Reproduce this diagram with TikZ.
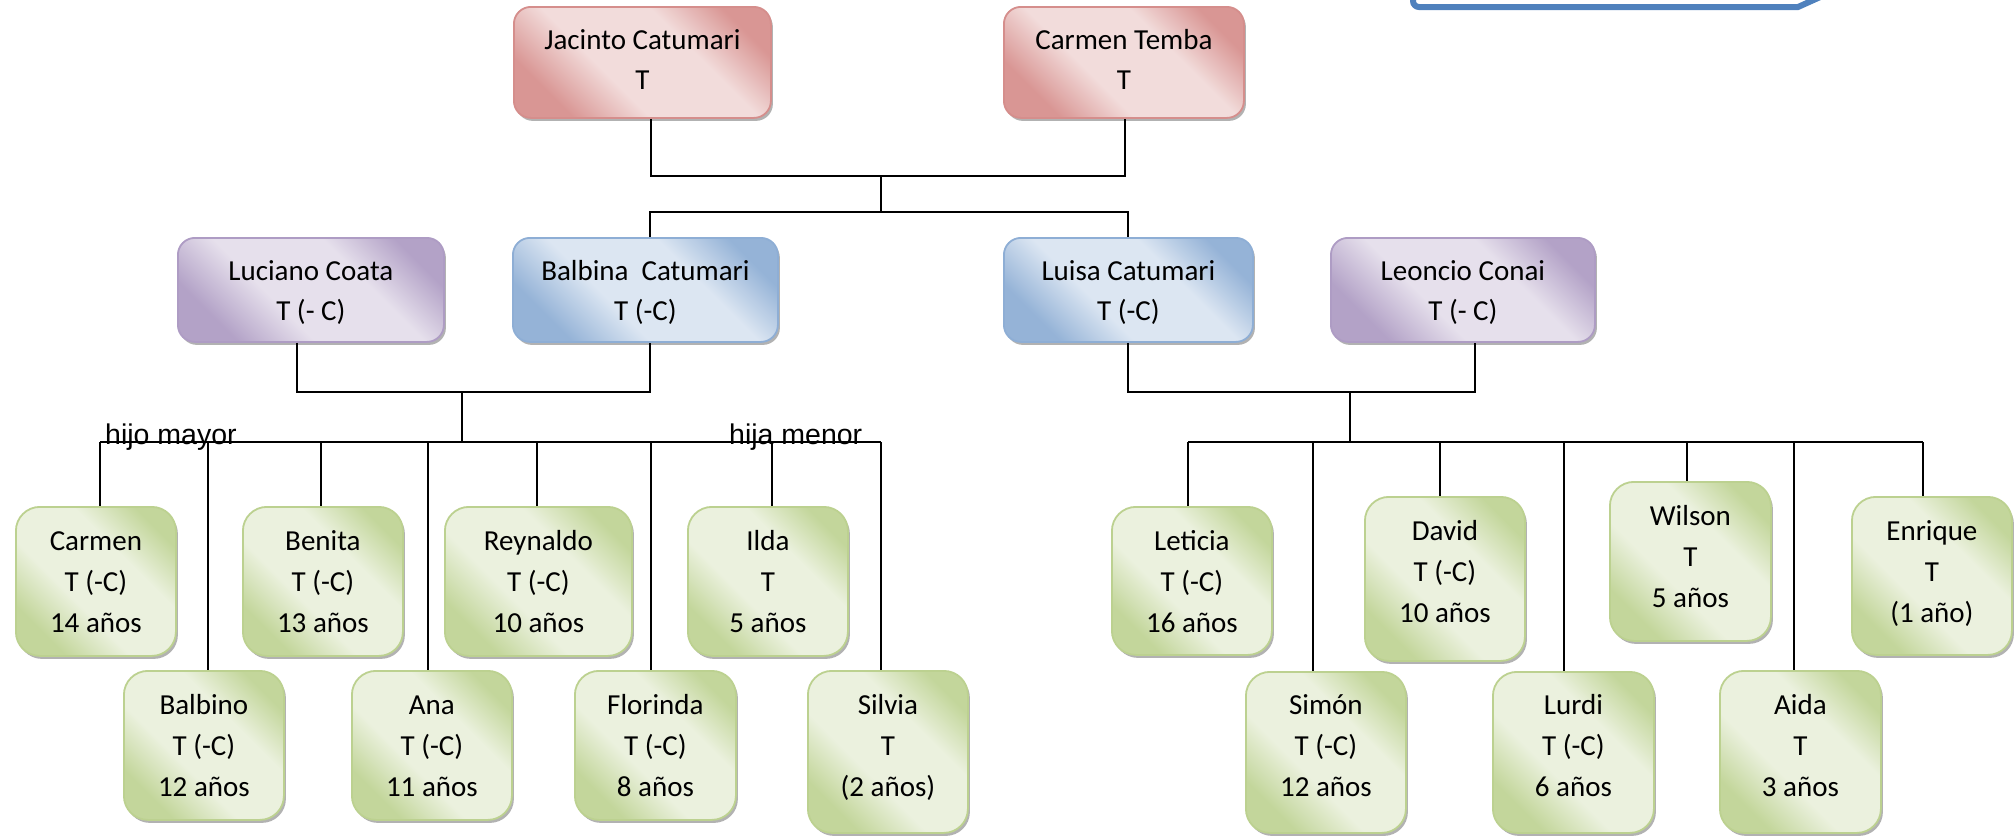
\documentclass[tikz,border=0pt]{standalone}
\usepackage{fontspec}
\setmainfont{Carlito}
\newfontfamily\notefont{Liberation Sans}
\usetikzlibrary{shadows}

% theme colours: dark edge of the gradient, light band, outline
\definecolor{greenDark}{HTML}{C3D69B}
\definecolor{greenLight}{HTML}{EBF1DE}
\definecolor{greenEdge}{HTML}{BCD190}
\definecolor{redDark}{HTML}{D99694}
\definecolor{redLight}{HTML}{F2DCDB}
\definecolor{redEdge}{HTML}{D58E8C}
\definecolor{purpleDark}{HTML}{B3A2C7}
\definecolor{purpleLight}{HTML}{E6E0EC}
\definecolor{purpleEdge}{HTML}{AE9CC4}
\definecolor{blueDark}{HTML}{95B3D7}
\definecolor{blueLight}{HTML}{DCE6F2}
\definecolor{blueEdge}{HTML}{8EAED5}
\definecolor{arrowBlue}{HTML}{4F81BD}

% diagonal gradient: dark corners, wide light band through the middle
\pgfdeclarehorizontalshading{greenShade}{100bp}{color(0bp)=(greenDark); color(26bp)=(greenDark); color(41bp)=(greenLight); color(62bp)=(greenLight); color(76bp)=(greenDark); color(100bp)=(greenDark)}
\pgfdeclarehorizontalshading{redShade}{100bp}{color(0bp)=(redDark); color(26bp)=(redDark); color(41bp)=(redLight); color(62bp)=(redLight); color(76bp)=(redDark); color(100bp)=(redDark)}
\pgfdeclarehorizontalshading{purpleShade}{100bp}{color(0bp)=(purpleDark); color(26bp)=(purpleDark); color(41bp)=(purpleLight); color(62bp)=(purpleLight); color(76bp)=(purpleDark); color(100bp)=(purpleDark)}
\pgfdeclarehorizontalshading{blueShade}{100bp}{color(0bp)=(blueDark); color(26bp)=(blueDark); color(41bp)=(blueLight); color(62bp)=(blueLight); color(76bp)=(blueDark); color(100bp)=(blueDark)}

% box contents: width, height, top padding, lines
\newcommand{\boxtext}[4]{\parbox[c][#2][t]{#1}{\centering\vspace*{#3}\rule{0pt}{30pt}#4}}

\begin{document}
\begin{tikzpicture}[x=1pt,y=-1pt,
  person/.style={anchor=north west, inner sep=0pt, line width=1.8pt, shade,
    shading angle=45,
    drop shadow={shadow xshift=2pt, shadow yshift=-3pt, fill=black, opacity=0.3}},
  parent/.style={person, rounded corners=17pt, font=\fontsize{29pt}{40pt}\selectfont},
  elder/.style={parent, draw=redEdge, shading=redShade},
  inlaw/.style={parent, draw=purpleEdge, shading=purpleShade},
  daughter/.style={parent, draw=blueEdge, shading=blueShade},
  kid/.style={person, rounded corners=24pt, draw=greenEdge, shading=greenShade,
    font=\fontsize{29pt}{41pt}\selectfont},
  link/.style={line width=2pt, black},
  note/.style={anchor=base west, inner sep=0pt,
    font=\notefont\fontsize{28.5pt}{34pt}\selectfont}]

\useasboundingbox (0,0) rectangle (2016,838);

% block arrow running off the top edge
\draw[line width=6pt, arrowBlue, line join=miter]
  (1413,-40) [rounded corners=6pt]-- (1413,7) [sharp corners]-- (1798,7) -- (1858,-20);

% grandparents
\node[elder] (Jacinto) at (513,6) {\boxtext{257pt}{111pt}{13pt}{Jacinto Catumari\\T}};
\node[elder] (Temba) at (1003,6) {\boxtext{240pt}{111pt}{13pt}{Carmen Temba\\T}};

% parents
\node[inlaw] (Luciano) at (177,237) {\boxtext{266pt}{104pt}{13pt}{Luciano Coata\\T (- C)}};
\node[daughter] (Balbina) at (512,237) {\boxtext{265pt}{104pt}{13pt}{Balbina\ \ Catumari\\T (-C)}};
\node[daughter] (Luisa) at (1003,237) {\boxtext{249pt}{104pt}{13pt}{Luisa Catumari\\T (-C)}};
\node[inlaw] (Leoncio) at (1330,237) {\boxtext{264pt}{104pt}{13pt}{Leoncio Conai\\T (- C)}};

% children of Luciano and Balbina
\node[kid] (Carmen) at (15,506) {\boxtext{160pt}{149pt}{14pt}{Carmen\\T (-C)\\14 años}};
\node[kid] (Benita) at (242,506) {\boxtext{160pt}{149pt}{14pt}{Benita\\T (-C)\\13 años}};
\node[kid] (Reynaldo) at (444,506) {\boxtext{187pt}{149pt}{14pt}{Reynaldo\\T (-C)\\10 años}};
\node[kid] (Ilda) at (687,506) {\boxtext{160pt}{149pt}{14pt}{Ilda\\T\\5 años}};
\node[kid] (Balbino) at (123,670) {\boxtext{160pt}{149pt}{14pt}{Balbino\\T (-C)\\12 años}};
\node[kid] (Ana) at (351,670) {\boxtext{160pt}{149pt}{14pt}{Ana\\T (-C)\\11 años}};
\node[kid] (Florinda) at (574,670) {\boxtext{161pt}{149pt}{14pt}{Florinda\\T (-C)\\8 años}};
\node[kid] (Silvia) at (807,670) {\boxtext{160pt}{162pt}{14pt}{Silvia\\T\\(2 años)}};

% children of Luisa and Leoncio
\node[kid] (Leticia) at (1111,506) {\boxtext{160pt}{148pt}{14pt}{Leticia\hspace*{32pt}\\T (-C)\\16 años}};
\node[kid] (Simon) at (1245,671) {\boxtext{160pt}{161pt}{13pt}{Simón\\T (-C)\\12 años}};
\node[kid] (David) at (1364,496) {\boxtext{160pt}{164pt}{14pt}{David\\T (-C)\\10 años}};
\node[kid] (Lurdi) at (1492,671) {\boxtext{161pt}{161pt}{13pt}{Lurdi\\T (-C)\\6 años}};
\node[kid] (Wilson) at (1609,481) {\boxtext{161pt}{159pt}{14pt}{Wilson\\T\\5 años}};
\node[kid] (Aida) at (1719,670) {\boxtext{161pt}{162pt}{14pt}{Aida\\T\\3 años}};
\node[kid] (Enrique) at (1851,496) {\boxtext{160pt}{158pt}{14pt}{Enrique\\T\\(1 año)}};

% junction points
\coordinate (jTopL) at (651,176);
\coordinate (jTopR) at (1125,176);
\coordinate (jTopMid) at (881,176);
\coordinate (jSibMid) at (881,212);
\coordinate (jSibL) at (650,212);
\coordinate (jSibR) at (1128,212);

\coordinate (jLucB) at (297,392);
\coordinate (jBalB) at (650,392);
\coordinate (jLeftMid) at (462,392);
\coordinate (jLeftBus) at (462,442);

\coordinate (jLuiB) at (1128,392);
\coordinate (jLeoB) at (1475,392);
\coordinate (jRightMid) at (1350,392);
\coordinate (jRightBus) at (1350,442);

\coordinate (kCarmen) at (100,442);
\coordinate (kBalbino) at (208,442);
\coordinate (kBenita) at (321,442);
\coordinate (kAna) at (428,442);
\coordinate (kReynaldo) at (537,442);
\coordinate (kFlorinda) at (651,442);
\coordinate (kIlda) at (772,442);
\coordinate (kSilvia) at (881,442);

\coordinate (kLeticia) at (1188,442);
\coordinate (kSimon) at (1313,442);
\coordinate (kDavid) at (1440,442);
\coordinate (kLurdi) at (1564,442);
\coordinate (kWilson) at (1687,442);
\coordinate (kAida) at (1794,442);
\coordinate (kEnrique) at (1923,442);

% grandparents to their daughters
\draw[link] (jTopL |- Jacinto.south) -- (jTopL) -- (jTopR) -- (jTopR |- Temba.south);
\draw[link] (jTopMid) -- (jSibMid);
\draw[link] (jSibL |- Balbina.north) -- (jSibL) -- (jSibR) -- (jSibR |- Luisa.north);

% first family
\draw[link] (jLucB |- Luciano.south) -- (jLucB) -- (jBalB) -- (jBalB |- Balbina.south);
\draw[link] (jLeftMid) -- (jLeftBus);
\draw[link] (kCarmen) -- (kSilvia);
\foreach \k in {Carmen,Balbino,Benita,Ana,Reynaldo,Florinda,Ilda,Silvia}
  \draw[link] (k\k) -- (k\k |- \k.north);

% second family
\draw[link] (jLuiB |- Luisa.south) -- (jLuiB) -- (jLeoB) -- (jLeoB |- Leoncio.south);
\draw[link] (jRightMid) -- (jRightBus);
\draw[link] (kLeticia) -- (kEnrique);
\foreach \k in {Leticia,Simon,David,Lurdi,Wilson,Aida,Enrique}
  \draw[link] (k\k) -- (k\k |- \k.north);

% notes on the bus line
\node[note] (oldest) at (105,444) {hijo mayor};
\node[note] (youngest) at (729,444) {hija menor};

\end{tikzpicture}
\end{document}
